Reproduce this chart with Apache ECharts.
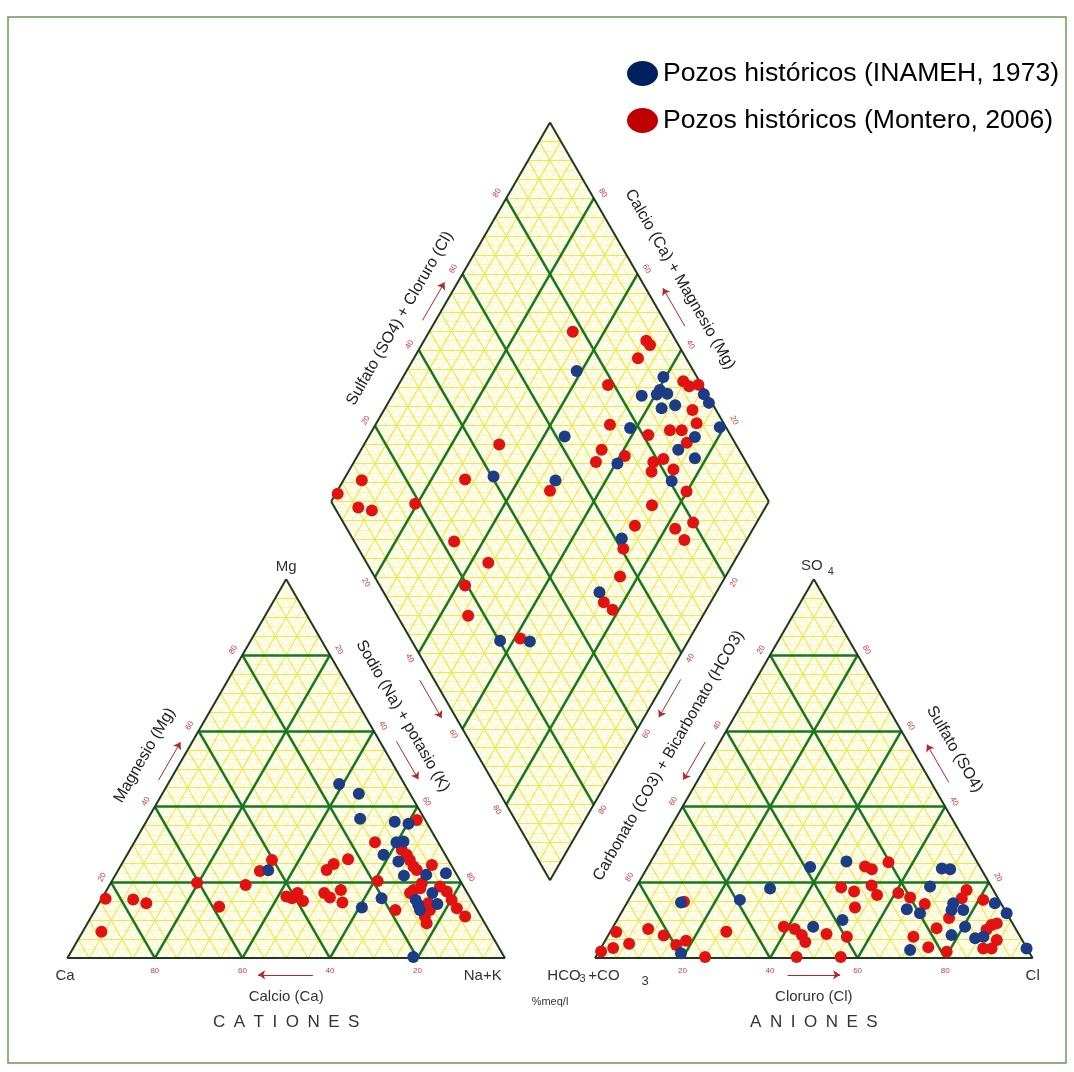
<!DOCTYPE html>
<html><head><meta charset="utf-8">
<script src="https://cdn.jsdelivr.net/npm/echarts@6/dist/echarts.min.js"></script>
<style>html,body{margin:0;padding:0;background:#fff}#c{width:1074px;height:1072px}</style>
</head><body><div id="c"></div>
<script>
// ---------------- DATA (percent meq/l) ----------------
const seriesNames = ['Pozos históricos (INAMEH, 1973)', 'Pozos históricos (Montero, 2006)'];
// Cations: [%Mg, %Na+K]  (Ca = 100 - Mg - Na+K)
const catINAMEH = [[23.2,34.3],[46.0,39.1],[43.4,44.9],[36.8,48.5],[36.0,56.8],[35.5,60.2],[30.6,59.9],[30.8,61.4],[27.3,58.6],[25.5,62.9],[21.8,66.0],[22.0,71.0],[22.4,75.3],[17.2,74.8],[15.4,71.9],[14.1,73.1],[14.3,77.4],[15.8,63.9],[13.4,60.6],[0.3,78.9],[12.7,74.2]];
const catMontero = [[15.7,0.9],[15.5,7.3],[14.5,10.8],[7.0,4.3],[19.9,19.7],[19.3,31.1],[13.6,27.9],[25.9,33.8],[23.0,32.5],[16.3,41.9],[17.2,44.0],[15.1,46.3],[15.8,43.4],[23.3,47.6],[24.9,48.4],[26.1,51.1],[17.2,50.1],[18.0,53.5],[14.7,55.5],[16.0,52.0],[20.4,60.7],[30.6,55.0],[12.7,68.6],[36.5,61.6],[28.6,62.1],[25.9,65.3],[23.3,68.2],[24.6,71.0],[19.8,71.1],[17.2,69.7],[14.5,75.2],[11.0,76.2],[9.2,77.5],[17.6,77.9],[15.4,80.1],[13.2,82.4],[11.0,85.4],[18.0,70.1],[18.9,75.7],[12.7,76.5],[27.3,63.9],[24.2,67.0],[18.5,71.4]];
// Anions: [%SO4, %Cl]  (HCO3+CO3 = 100 - SO4 - Cl)
const anINAMEH = [[14.7,12.3],[1.3,19.0],[15.4,25.4],[18.4,30.8],[24.1,37.1],[25.5,44.7],[8.3,45.7],[10.1,51.5],[18.9,67.1],[23.7,67.4],[23.5,69.4],[12.9,64.8],[11.9,68.3],[14.5,74.6],[12.7,75.1],[12.7,77.8],[8.3,80.4],[6.1,78.4],[5.3,84.2],[5.7,85.9],[14.5,84.1],[11.9,88.1],[2.2,70.9],[2.6,97.3]];
const anMontero = [[1.8,0.5],[2.7,2.8],[6.9,1.4],[3.8,5.9],[7.7,8.3],[6.0,12.7],[3.5,16.8],[4.6,18.5],[0.3,25.0],[7.0,26.5],[14.9,12.9],[8.3,39.0],[7.7,41.8],[6.1,44.2],[4.3,45.9],[0.3,45.9],[6.4,49.7],[5.7,54.7],[0.3,56.0],[24.2,49.6],[23.5,51.5],[25.3,54.4],[18.7,46.9],[17.6,50.4],[13.4,52.7],[19.2,53.6],[16.7,56.1],[17.2,60.7],[16.0,64.0],[14.3,68.2],[5.7,69.9],[2.9,74.7],[1.7,79.5],[7.9,74.1],[10.6,75.6],[15.8,75.9],[18.0,75.9],[15.4,81.0],[8.8,86.2],[9.2,87.2],[7.5,85.7],[4.8,89.4],[2.6,87.4],[2.6,89.3]];
// Diamond: [%(SO4+Cl), %(Ca+Mg)]
const diaINAMEH = [[73.3,61.1],[92.3,40.5],[89.8,39.6],[91.0,37.4],[88.5,39.7],[91.3,34.1],[87.8,36.8],[84.9,43.0],[99.3,29.0],[99.3,26.7],[98.6,21.0],[78.0,41.4],[61.9,55.2],[91.6,25.4],[86.1,27.5],[88.8,22.6],[70.4,39.6],[80.5,24.9],[40.4,66.2],[54.0,51.5],[20.2,43.0],[26.9,36.1],[61.5,28.7],[49.3,26.7]];
const diaMontero = [[77.6,67.2],[93.2,49.2],[93.5,47.8],[89.0,48.8],[78.6,52.1],[96.3,35.4],[97.0,33.4],[99.3,31.5],[94.6,29.5],[93.8,26.8],[86.8,32.0],[89.5,29.3],[89.0,26.5],[81.2,36.3],[73.8,46.4],[68.6,45.0],[65.7,44.7],[73.1,38.9],[78.8,31.6],[77.1,30.7],[81.5,29.7],[82.4,26.0],[82.5,20.1],[72.8,26.2],[45.9,69.1],[33.5,72.3],[51.4,51.4],[9.8,95.8],[2.5,99.5],[5.4,93.0],[8.1,89.5],[18.9,80.5],[22.8,66.6],[27.8,56.0],[19.5,58.3],[16.2,53.6],[25.1,38.7],[66.2,27.4],[75.0,17.8],[75.6,14.2],[79.9,14.5],[60.5,27.0],[56.1,24.1],[49.0,24.4],[50.0,21.4]];
const tickValues = [20, 40, 60, 80];

// ---------------- GEOMETRY (Piper layout, triangle side = 100 units) ----------------
const G = 20.56, H = Math.sqrt(3) / 2;
const cat = (mg, na) => [na + mg / 2, mg * H];
const an = (so4, cl) => [100 + G + cl + so4 / 2, so4 * H];
const dia = (a, c) => [100 + G / 2 + (a - c) / 2, G * H + (a + c) * H];
const C0 = cat(0, 0), CM = cat(100, 0), CN = cat(0, 100);
const AH = an(0, 0), AS = an(100, 0), AC = an(0, 100);
const DB = dia(0, 0), DL = dia(0, 100), DT = dia(100, 100), DR = dia(100, 0);
const PX = 4.377; // px per unit (for small offsets)

function edgePt(A, B, t, off) {
  const dx = B[0] - A[0], dy = B[1] - A[1], L = Math.hypot(dx, dy);
  return [A[0] + t * dx - off * dy / L, A[1] + t * dy + off * dx / L];
}
const isMult = (k, m) => Math.abs(k / m - Math.round(k / m)) < 1e-6;
function triLines(f, step, skip) {
  const out = [];
  for (let k = step; k < 100 - 1e-6; k += step) {
    if (skip && skip.some(m => isMult(k, m))) continue;
    out.push([f(k, 0), f(k, 100 - k)]);
    out.push([f(0, k), f(100 - k, k)]);
    out.push([f(0, 100 - k), f(100 - k, 0)]);
  }
  return out;
}
function diaLines(step, skip, withHorizontal) {
  const out = [];
  for (let k = step; k < 100 - 1e-6; k += step) {
    if (skip && skip.some(m => isMult(k, m))) continue;
    out.push([dia(k, 0), dia(k, 100)]);
    out.push([dia(0, k), dia(100, k)]);
  }
  if (withHorizontal) {
    for (let s = step; s < 200 - 1e-6; s += step) {
      if (skip && skip.some(m => isMult(s, m))) continue;
      const a0 = Math.max(0, s - 100), a1 = Math.min(100, s);
      out.push([dia(a0, s - a0), dia(a1, s - a1)]);
    }
  }
  return out;
}
const faintLines = triLines(cat, 2.5, [5]).concat(triLines(an, 2.5, [5]), diaLines(2.5, [5], true));
const fineLines = triLines(cat, 5, [20]).concat(triLines(an, 5, [20]), diaLines(5, [20], true));
// horizontal lines through the diamond at multiples of 20 of (a+c) are fine lines too
for (let s = 20; s < 200; s += 20) { const a0 = Math.max(0, s - 100), a1 = Math.min(100, s); fineLines.push([dia(a0, s - a0), dia(a1, s - a1)]); }
const majorLines = triLines(cat, 20, null).concat(triLines(an, 20, null), diaLines(20, null, false));
const shapes = [[C0, CM, CN], [AH, AS, AC], [DB, DR, DT, DL]];
const outlineLines = [];
shapes.forEach(s => s.forEach((p, i) => outlineLines.push([p, s[(i + 1) % s.length]])));

// ---------------- TEXT ----------------
const FONT = '"Liberation Sans", Arial, sans-serif';
const texts = [];
const R60 = Math.PI / 3;
const tickEdges = [
  [C0, CM, R60, t => 100 * t], [CM, CN, -R60, t => 100 * t], [CN, C0, 0, t => 100 * t],
  [AH, AS, R60, t => 100 * (1 - t)], [AS, AC, -R60, t => 100 * (1 - t)], [AC, AH, 0, t => 100 * (1 - t)],
  [DL, DT, R60, t => 100 * t], [DT, DR, -R60, t => 100 * (1 - t)], [DR, DB, R60, t => 100 * t], [DB, DL, -R60, t => 100 * (1 - t)]
];
tickEdges.forEach(([A, B, rot, fn]) => {
  tickValues.forEach(v => {
    const t = v / 100;
    texts.push({ p: edgePt(A, B, t, rot === 0 ? 2.85 : 2.4), text: String(Math.round(fn(t))), rot: rot, size: 8, color: '#d23a3a' });
  });
});
const titleColor = '#222';
texts.push({ p: edgePt(C0, CM, 0.49, 7.9), text: 'Magnesio (Mg)', rot: R60, size: 16, color: titleColor });
texts.push({ p: edgePt(CM, CN, 0.404, 7.45), text: 'Sodio (Na) + potasio (K)', rot: -R60, size: 16, color: titleColor });
texts.push({ p: edgePt(AS, AC, 0.497, 8.4), text: 'Sulfato (SO4)', rot: -R60, size: 16, color: titleColor });
texts.push({ p: edgePt(AH, AS, 0.485, 8.6), text: 'Carbonato (CO3) + Bicarbonato (HCO3)', rot: R60, size: 16, color: titleColor });
texts.push({ p: edgePt(DL, DT, 0.441, 7.3), text: 'Sulfato (SO4) + Cloruro (Cl)', rot: R60, size: 16, color: titleColor });
texts.push({ p: edgePt(DT, DR, 0.459, 7.8), text: 'Calcio (Ca) + Magnesio (Mg)', rot: -R60, size: 16, color: titleColor });
// corner labels
texts.push({ p: [CM[0], CM[1] + 12.5 / PX], text: 'Mg', rot: 0, size: 15, color: '#333' });
texts.push({ p: [C0[0] - 0.5, -17.7 / PX], text: 'Ca', rot: 0, size: 15, color: '#333' });
texts.push({ p: [CN[0] - 5.1, -17.7 / PX], text: 'Na+K', rot: 0, size: 15, color: '#333' });
texts.push({ p: [AC[0], -17.7 / PX], text: 'Cl', rot: 0, size: 15, color: '#333' });
texts.push({ p: [AS[0] - 1.9 / PX, AS[1] + 13 / PX], text: 'SO', rot: 0, size: 15, color: '#333' });
texts.push({ p: [AS[0] + 17 / PX, AS[1] + 7 / PX], text: '4', rot: 0, size: 11, color: '#333' });
texts.push({ p: [AH[0] - 31 / PX, -17.7 / PX], text: 'HCO', rot: 0, size: 15, color: '#333' });
texts.push({ p: [AH[0] - 12.5 / PX, -21 / PX], text: '3', rot: 0, size: 11, color: '#333' });
texts.push({ p: [AH[0] + 9 / PX, -17.7 / PX], text: '+CO', rot: 0, size: 15, color: '#333' });
texts.push({ p: [AH[0] + 50 / PX, -23 / PX], text: '3', rot: 0, size: 13, color: '#333' });
texts.push({ p: [50, -38.7 / PX], text: 'Calcio (Ca)', rot: 0, size: 15, color: '#333' });
texts.push({ p: [(AH[0] + AC[0]) / 2, -38.7 / PX], text: 'Cloruro (Cl)', rot: 0, size: 15, color: '#333' });
texts.push({ p: [50, -63.7 / PX], text: 'C\u2002A\u2002T\u2002I\u2002O\u2002N\u2002E\u2002S', rot: 0, size: 17, color: '#333' });
texts.push({ p: [(AH[0] + AC[0]) / 2, -63.7 / PX], text: 'A\u2002N\u2002I\u2002O\u2002N\u2002E\u2002S', rot: 0, size: 17, color: '#333' });
texts.push({ p: [DB[0], -44 / PX], text: '%meq/l', rot: 0, size: 11, color: '#333' });

// ---------------- ARROWS ----------------
const arrows = [
  [edgePt(C0, CM, 0.457, 2.3), edgePt(C0, CM, 0.557, 2.3)],
  [edgePt(CM, CN, 0.447, 3.3), edgePt(CM, CN, 0.547, 3.3)],
  [edgePt(DB, DL, 0.545, 2.9), edgePt(DB, DL, 0.445, 2.9)],
  [edgePt(AH, AS, 0.554, 2.9), edgePt(AH, AS, 0.454, 2.9)],
  [edgePt(DR, DB, 0.453, 2.9), edgePt(DR, DB, 0.553, 2.9)],
  [edgePt(AS, AC, 0.556, 3.5), edgePt(AS, AC, 0.456, 3.5)],
  [edgePt(DL, DT, 0.463, 2.6), edgePt(DL, DT, 0.563, 2.6)],
  [edgePt(DT, DR, 0.557, 3.4), edgePt(DT, DR, 0.457, 3.4)],
  [[56.1, -3.8], [43.6, -3.8]],
  [[(AH[0] + AC[0]) / 2 - 6, -3.8], [(AH[0] + AC[0]) / 2 + 6, -3.8]]
];

const blueData = catINAMEH.map(p => cat(p[0], p[1])).concat(anINAMEH.map(p => an(p[0], p[1])), diaINAMEH.map(p => dia(p[0], p[1])));
const redData = catMontero.map(p => cat(p[0], p[1])).concat(anMontero.map(p => an(p[0], p[1])), diaMontero.map(p => dia(p[0], p[1])));

const chart = echarts.init(document.getElementById('c'), null, { renderer: 'canvas' });
const toLines = arr => arr.map(s => ({ coords: s }));
chart.setOption({
  animation: false,
  backgroundColor: '#ffffff',
  grid: { left: 0, right: 0, top: 0, bottom: 0 },
  xAxis: { type: 'value', min: -15.38, max: 230, show: false },
  yAxis: { type: 'value', min: -26, max: 219, show: false },
  legend: {
    orient: 'vertical', left: 627, top: 60, itemWidth: 31, itemHeight: 25, itemGap: 20, padding: 0,
    textStyle: { fontSize: 26.6, fontFamily: FONT, color: '#000' },
    icon: 'path://M0,12.5A15.5,12.5,0,1,0,31,12.5A15.5,12.5,0,1,0,0,12.5Z',
    data: [{ name: seriesNames[0], itemStyle: { color: '#002060' } }, { name: seriesNames[1], itemStyle: { color: '#c00000' } }]
  },
  graphic: [{ type: 'rect', shape: { x: 8, y: 17, width: 1058, height: 1046 }, style: { fill: 'none', stroke: '#6c9a52', lineWidth: 1.5 }, z: 100 }],
  series: [
    {
      type: 'custom', z: 1, silent: true, data: shapes.map((s, i) => [i]),
      renderItem: (params, api) => ({
        type: 'polygon', shape: { points: shapes[params.dataIndex].map(p => api.coord(p)) },
        style: { fill: '#fefef0' }
      })
    },
    { type: 'lines', coordinateSystem: 'cartesian2d', z: 2, silent: true, polyline: false, data: toLines(faintLines), lineStyle: { color: '#f6f3a6', width: 0.8, opacity: 1 } },
    { type: 'lines', coordinateSystem: 'cartesian2d', z: 2, silent: true, polyline: false, data: toLines(fineLines), lineStyle: { color: '#eee84a', width: 1.2, opacity: 1 } },
    { type: 'lines', coordinateSystem: 'cartesian2d', z: 3, silent: true, polyline: false, data: toLines(majorLines), lineStyle: { color: '#1a771a', width: 2.5, opacity: 1 } },
    { type: 'lines', coordinateSystem: 'cartesian2d', z: 4, silent: true, polyline: false, data: toLines(outlineLines), lineStyle: { color: '#1e3a1e', width: 2, opacity: 1 } },
    { type: 'lines', coordinateSystem: 'cartesian2d', z: 4, silent: true, polyline: false, symbol: ['none', 'arrow'], symbolSize: 7, data: toLines(arrows), lineStyle: { color: '#b3262a', width: 1, opacity: 1 } },
    {
      type: 'custom', z: 5, silent: true, data: texts.map(t => t.p),
      renderItem: (params, api) => {
        const s = texts[params.dataIndex]; const pt = api.coord(s.p);
        return { type: 'text', x: pt[0], y: pt[1], rotation: s.rot,
          style: { text: s.text, fontSize: s.size, fontFamily: FONT, fill: s.color, align: 'center', verticalAlign: 'middle' } };
      }
    },
    { name: seriesNames[1], type: 'scatter', z: 6, symbol: 'circle', symbolSize: 12, data: redData, itemStyle: { color: '#e01212', opacity: 1 } },
    { name: seriesNames[0], type: 'scatter', z: 7, symbol: 'circle', symbolSize: 12, data: blueData, itemStyle: { color: '#1c3c86', opacity: 1 } }
  ]
});
</script></body></html>
